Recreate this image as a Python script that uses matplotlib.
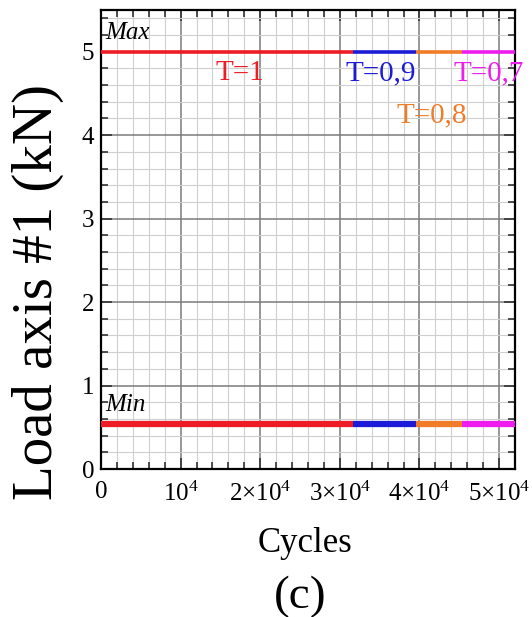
import matplotlib
matplotlib.use("Agg")
import matplotlib.pyplot as plt
from matplotlib.ticker import MultipleLocator, FixedLocator

plt.rcParams['font.family'] = ['Liberation Serif', 'DejaVu Serif']
plt.rcParams['mathtext.fontset'] = 'custom'
plt.rcParams['mathtext.rm'] = 'Liberation Serif'
plt.rcParams['mathtext.it'] = 'Liberation Serif:italic'

# Data
segment_labels = ["T=1", "T=0,9", "T=0,8", "T=0,7"]
segment_bounds = [0, 31700, 39600, 45400, 52000]
segment_colors = ["#ee1c24", "#1c1cd8", "#f07c2a", "#ee1cee"]
load_max = 5.0
load_min = 0.54
label_x = [17500, 35200, 41600, 48700]
label_y = [4.74, 4.74, 4.24, 4.74]
xtick_vals = [0, 10000, 20000, 30000, 40000, 50000]
xtick_labels = ["0", r"$10^4$", r"$2{\times}10^4$", r"$3{\times}10^4$", r"$4{\times}10^4$", r"$5{\times}10^4$"]
ytick_vals = [0, 1, 2, 3, 4, 5]

fig = plt.figure(figsize=(5.32, 6.17), dpi=100)
ax = fig.add_axes([101/532, 1-469/617, (515-101)/532, (469-10)/617])

for i in range(4):
    x0, x1 = segment_bounds[i], segment_bounds[i+1]
    ax.plot([x0, x1], [load_max, load_max], color=segment_colors[i], lw=2.6, solid_capstyle='butt', zorder=3)
    ax.plot([x0, x1], [load_min, load_min], color=segment_colors[i], lw=4.5, solid_capstyle='butt', zorder=3)
    ax.text(label_x[i], label_y[i], segment_labels[i], color=segment_colors[i],
            fontsize=21, ha='center', va='center', zorder=4)

ax.text(500, 5.23, "Max", fontsize=18, style='italic', ha='left', va='center')
ax.text(500, 0.77, "Min", fontsize=18, style='italic', ha='left', va='center')

ax.set_xlim(0, 52000)
ax.set_ylim(0, 5.5)
ax.xaxis.set_major_locator(FixedLocator(xtick_vals))
ax.set_xticklabels(xtick_labels)
ax.xaxis.set_minor_locator(MultipleLocator(2000))
ax.yaxis.set_major_locator(FixedLocator(ytick_vals))
ax.yaxis.set_minor_locator(MultipleLocator(0.2))

ax.grid(which='major', color='#7a7a7a', lw=1.1, zorder=1)
ax.grid(which='minor', color='#cfcfcf', lw=0.8, zorder=0)
ax.set_axisbelow(True)
ax.tick_params(which='both', direction='in', top=True, right=True, labelsize=18, width=1.2, color='#333333')
ax.tick_params(axis='x', which='major', length=8, pad=9)
ax.tick_params(axis='y', which='major', length=8, pad=5)
ax.tick_params(which='minor', length=5)
for s in ax.spines.values():
    s.set_linewidth(1.6)

fig.text(38/532, 1-292/617, "Load axis #1 (kN)", fontsize=41, rotation=90, ha='center', va='center')
fig.text(305/532, 1-543/617, "Cycles", fontsize=25, ha='center', va='center')
fig.text(300/532, 1-597/617, "(c)", fontsize=34, ha='center', va='center')

fig.savefig("out.png", dpi=100)
